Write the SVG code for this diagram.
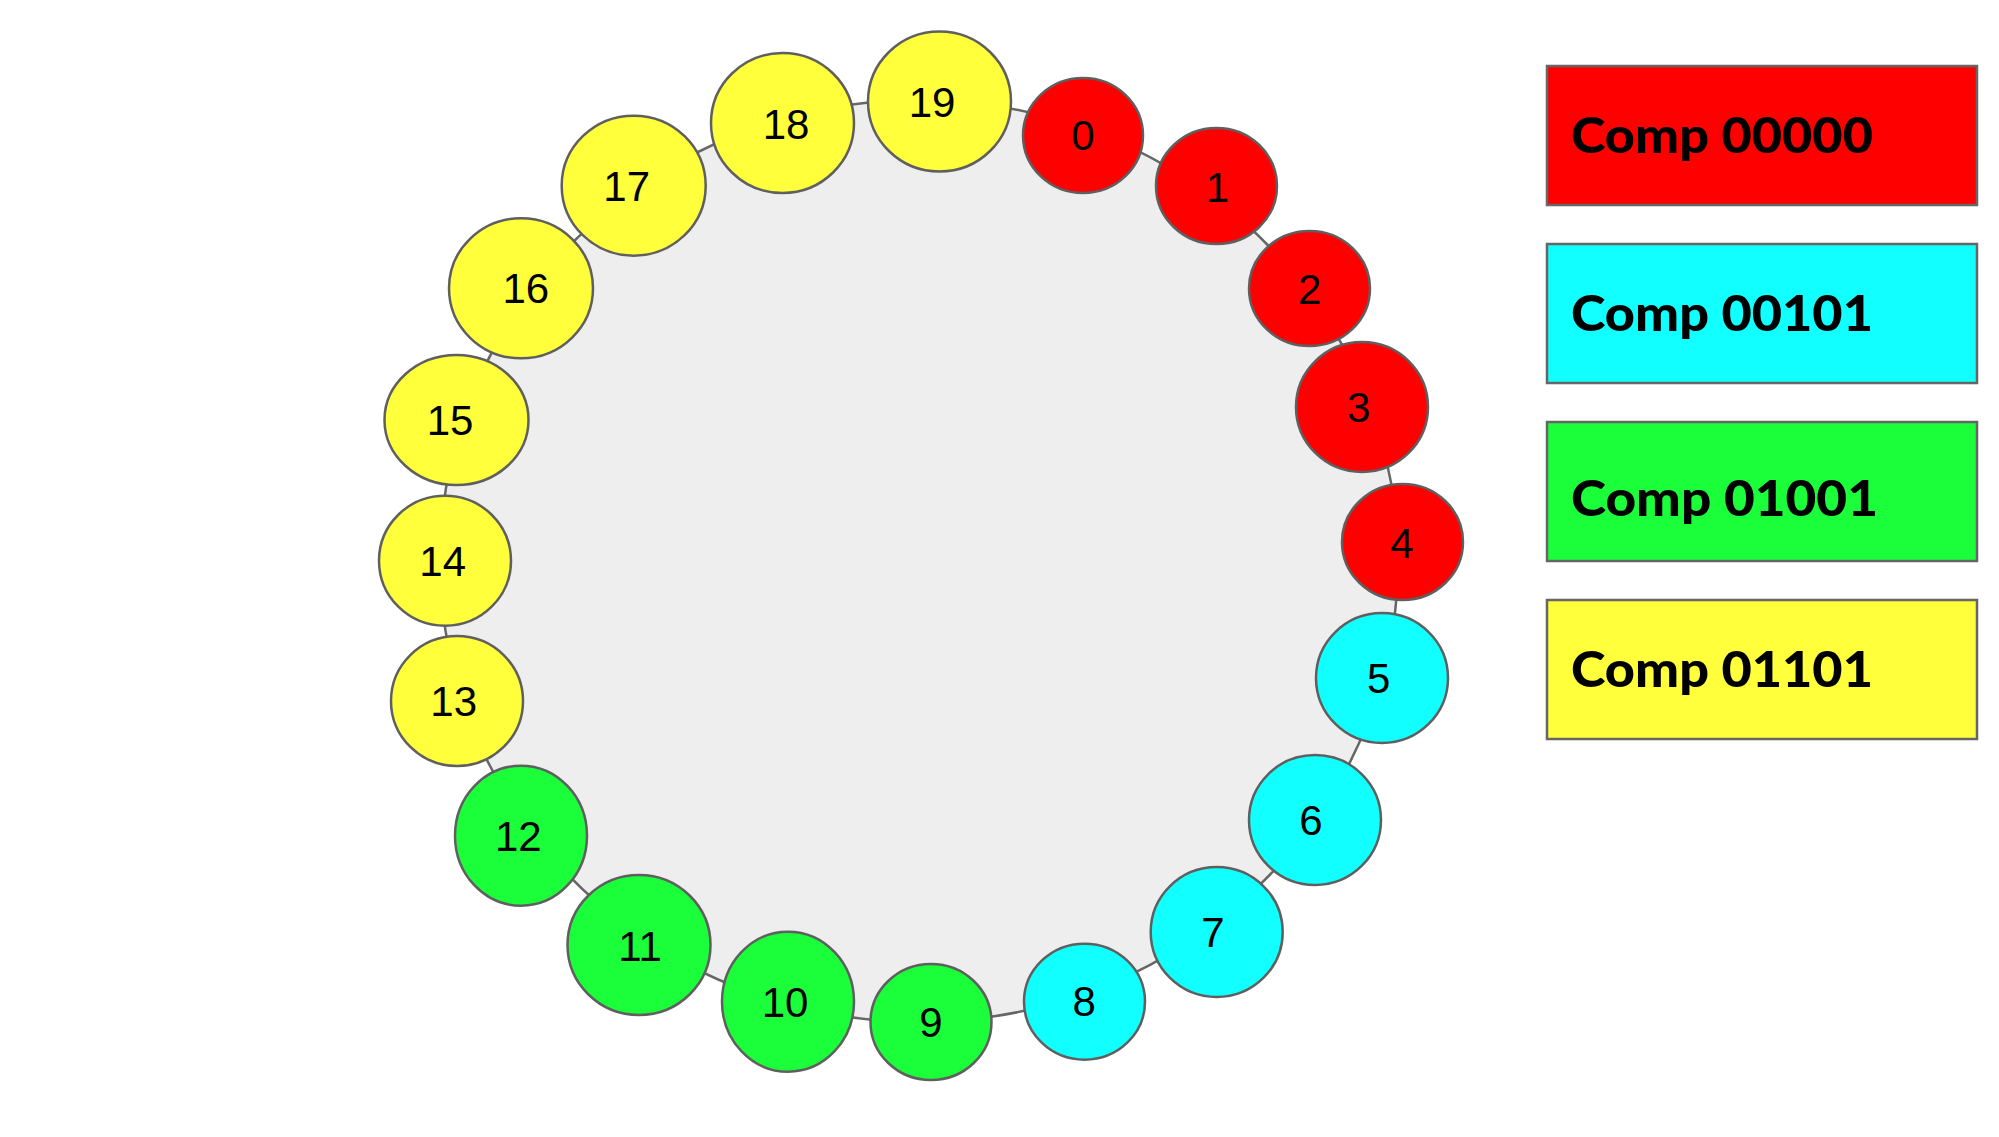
<svg xmlns="http://www.w3.org/2000/svg" width="1999" height="1137" viewBox="0 0 1999 1137">
<style>
.bg{fill:#ffffff}
.ringfill{fill:#eeeeee;stroke:none}
.edge{fill:none;stroke:#666666;stroke-width:2.5}
.node{stroke:#5f5f5f;stroke-width:2.5}
.red{fill:#ff0000}
.cyan{fill:#12ffff}
.green{fill:#1aff3a}
.yellow{fill:#ffff3b}
.lbl{font-family:"Liberation Sans",Arial,sans-serif;font-size:42px;fill:#000;text-anchor:middle}
.leg{stroke:#666666;stroke-width:2.5}
.legt{font-family:Lato,"Noto Sans",sans-serif;font-weight:900;font-size:50px;fill:#000}
</style>
<rect class="bg" x="0" y="0" width="1999" height="1137"/>
<ellipse class="ringfill" cx="919" cy="561" rx="479" ry="461"/>
<g id="connectors">
<path class="edge" d="M1085.2,128.6 A479,461 0 0 1 1209.9,194.8"/>
<path class="edge" d="M1209.9,194.8 A479,461 0 0 1 1306.7,290.3"/>
<path class="edge" d="M1306.7,290.3 A479,461 0 0 1 1369.5,404.4"/>
<path class="edge" d="M1369.5,404.4 A479,461 0 0 1 1397.6,542.2"/>
<path class="edge" d="M1397.6,542.2 A479,461 0 0 1 1382.3,678"/>
<path class="edge" d="M1382.3,678 A479,461 0 0 1 1315.2,820.1"/>
<path class="edge" d="M1315.2,820.1 A479,461 0 0 1 1211.9,925.7"/>
<path class="edge" d="M1211.9,925.7 A479,461 0 0 1 1082.1,994.5"/>
<path class="edge" d="M1082.1,994.5 A479,461 0 0 1 930.7,1021.9"/>
<path class="edge" d="M930.7,1021.9 A479,461 0 0 1 787.3,1004.2"/>
<path class="edge" d="M787.3,1004.2 A479,461 0 0 1 643.9,938.4"/>
<path class="edge" d="M643.9,938.4 A479,461 0 0 1 529.8,829.7"/>
<path class="edge" d="M529.8,829.7 A479,461 0 0 1 462.2,699.6"/>
<path class="edge" d="M462.2,699.6 A479,461 0 0 1 440,561"/>
<path class="edge" d="M440,561 A479,461 0 0 1 462.4,421.6"/>
<path class="edge" d="M462.4,421.6 A479,461 0 0 1 528.6,293.9"/>
<path class="edge" d="M528.6,293.9 A479,461 0 0 1 636.1,189"/>
<path class="edge" d="M636.1,189 A479,461 0 0 1 781.3,119.5"/>
<path class="edge" d="M781.3,119.5 A479,461 0 0 1 939.9,100.5"/>
<path class="edge" d="M939.9,100.5 A479,461 0 0 1 1085.2,128.6"/>
</g>
<g id="node0"><ellipse class="node red" cx="1083" cy="135.5" rx="60" ry="57.5"/><text class="lbl" x="1083" y="150">0</text></g>
<g id="node1"><ellipse class="node red" cx="1216.5" cy="186" rx="60.5" ry="58"/><text class="lbl" x="1217.5" y="202">1</text></g>
<g id="node2"><ellipse class="node red" cx="1309.5" cy="288.5" rx="60.5" ry="57.5"/><text class="lbl" x="1309.7" y="304">2</text></g>
<g id="node3"><ellipse class="node red" cx="1362" cy="407" rx="66" ry="65"/><text class="lbl" x="1358.7" y="422">3</text></g>
<g id="node4"><ellipse class="node red" cx="1402.5" cy="542" rx="60.5" ry="58"/><text class="lbl" x="1402" y="557.5">4</text></g>
<g id="node5"><ellipse class="node cyan" cx="1382" cy="678" rx="66" ry="65"/><text class="lbl" x="1378.7" y="692.5">5</text></g>
<g id="node6"><ellipse class="node cyan" cx="1315" cy="820" rx="66" ry="65"/><text class="lbl" x="1311" y="834.5">6</text></g>
<g id="node7"><ellipse class="node cyan" cx="1216.7" cy="932" rx="66" ry="65"/><text class="lbl" x="1213" y="946.5">7</text></g>
<g id="node8"><ellipse class="node cyan" cx="1084.5" cy="1001.7" rx="60.5" ry="58"/><text class="lbl" x="1084.3" y="1016">8</text></g>
<g id="node9"><ellipse class="node green" cx="931" cy="1022" rx="60.5" ry="58"/><text class="lbl" x="931" y="1037.3">9</text></g>
<g id="node10"><ellipse class="node green" cx="788" cy="1001.7" rx="66" ry="70"/><text class="lbl" x="785" y="1016.7">10</text></g>
<g id="node11"><ellipse class="node green" cx="639" cy="945" rx="71.5" ry="70"/><text class="lbl" x="640" y="960.7">11</text></g>
<g id="node12"><ellipse class="node green" cx="521" cy="835.7" rx="66" ry="70"/><text class="lbl" x="518.3" y="850.7">12</text></g>
<g id="node13"><ellipse class="node yellow" cx="457" cy="701" rx="66" ry="65"/><text class="lbl" x="453.7" y="716">13</text></g>
<g id="node14"><ellipse class="node yellow" cx="445" cy="560.7" rx="66" ry="65"/><text class="lbl" x="442.7" y="575.7">14</text></g>
<g id="node15"><ellipse class="node yellow" cx="456.5" cy="420" rx="72" ry="65"/><text class="lbl" x="450" y="435">15</text></g>
<g id="node16"><ellipse class="node yellow" cx="521" cy="288.3" rx="72" ry="70"/><text class="lbl" x="525.8" y="303.3">16</text></g>
<g id="node17"><ellipse class="node yellow" cx="633.7" cy="185.7" rx="72" ry="70"/><text class="lbl" x="626.7" y="200.7">17</text></g>
<g id="node18"><ellipse class="node yellow" cx="782.5" cy="123" rx="71.5" ry="70"/><text class="lbl" x="786" y="139">18</text></g>
<g id="node19"><ellipse class="node yellow" cx="939.5" cy="101.5" rx="71.5" ry="70"/><text class="lbl" x="932" y="117">19</text></g>
<g id="legend">
<g id="legend-00000"><rect class="leg red" x="1547" y="66" width="430" height="139"/><text class="legt" x="1571" y="153" textLength="302" lengthAdjust="spacingAndGlyphs">Comp 00000</text></g>
<g id="legend-00101"><rect class="leg cyan" x="1547" y="244" width="430" height="139"/><text class="legt" x="1571" y="331" textLength="302" lengthAdjust="spacingAndGlyphs">Comp 00101</text></g>
<g id="legend-01001"><rect class="leg green" x="1547" y="422" width="430" height="139"/><text class="legt" x="1571" y="516" textLength="307" lengthAdjust="spacingAndGlyphs">Comp 01001</text></g>
<g id="legend-01101"><rect class="leg yellow" x="1547" y="600" width="430" height="139"/><text class="legt" x="1571" y="687" textLength="302" lengthAdjust="spacingAndGlyphs">Comp 01101</text></g>
</g>
</svg>
